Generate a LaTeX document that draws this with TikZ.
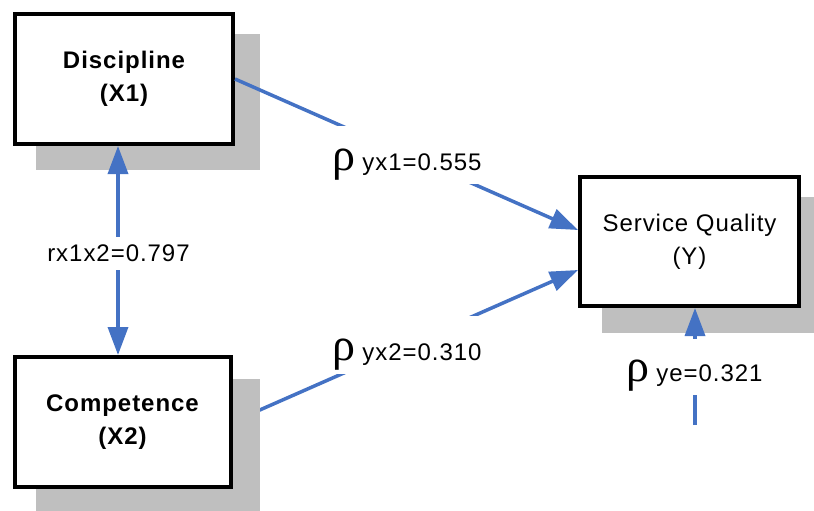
\documentclass[tikz,border=0pt]{standalone}
\usepackage{fontspec}
\setmainfont{Liberation Sans}[LetterSpace=4]
\newfontfamily\rhofont{Liberation Serif}
\usetikzlibrary{arrows.meta,calc}
\pgfdeclarelayer{bg}
\pgfsetlayers{bg,main}
\definecolor{lineblue}{HTML}{4472C4}
\definecolor{shadowgray}{HTML}{BFBFBF}
\newcommand{\rholabel}[1]{{\fontsize{46}{46}\selectfont\rhofont ρ}\hspace{7pt}#1}
\begin{document}
\begin{tikzpicture}[x=1pt,y=-1pt,
  box/.style={draw=black, line width=4pt, fill=white, inner sep=0pt, align=center,
              font=\fontsize{24}{33}\selectfont},
  arr/.style={draw=lineblue, line width=3.5pt, -{Triangle[length=28pt,width=20pt]}},
  darr/.style={draw=lineblue, line width=3.5pt, {Triangle[length=28pt,width=20pt]}-{Triangle[length=28pt,width=20pt]}},
  rholbl/.style={fill=white, inner xsep=6pt, inner ysep=0pt, text height=45.1pt, text depth=12.9pt,
                 font=\fontsize{24}{28}\selectfont},
  rlbl/.style={fill=white, inner xsep=4pt, inner ysep=0pt, minimum height=33pt,
               font=\fontsize{24}{28}\selectfont}
]
\useasboundingbox (0,0) rectangle (814,511);

% boxes
\node[box, font=\fontsize{24}{33}\selectfont\bfseries, minimum width=218pt, minimum height=130pt] (D) at (124,79) {Discipline\\(X1)};
\node[box, font=\fontsize{24}{33}\selectfont\bfseries, minimum width=216pt, minimum height=130pt] (C) at (122.5,422) {Competence\\(X2)};
\node[box, minimum width=219pt, minimum height=129pt] (SQ) at (689.5,241.5) {Service Quality\\(Y)};

% background: connector under shadow, and shadows
\begin{pgfonlayer}{bg}
  \draw[arr] (C.east) -- ($(SQ.west)+(0,28.5)$);
  \fill[shadowgray] (36,34) rectangle (260,170);
  \fill[shadowgray] (36,379) rectangle (260,511);
  \fill[shadowgray] (602,197) rectangle (814,333);
\end{pgfonlayer}

% connectors
\draw[arr] (D.east) -- ($(SQ.west)+(0,-11.5)$);
\coordinate (rx) at (118,0);
\draw[darr] (D.south -| rx) -- (C.north -| rx);
\coordinate (e) at (695,425);
\draw[arr] (e) -- (e |- SQ.south);

% labels
\node[rholbl] (l1) at (407,154.5) {\rholabel{yx1=0.555}};
\node[rholbl] (l2) at (407,344.5) {\rholabel{yx2=0.310}};
\node[rholbl, text height=43.1pt] (l3) at (694.5,366.5) {\rholabel{ye=0.321}};
\node[rlbl] (l4) at (118.5,253.5) {rx1x2=0.797};
\end{tikzpicture}
\end{document}
